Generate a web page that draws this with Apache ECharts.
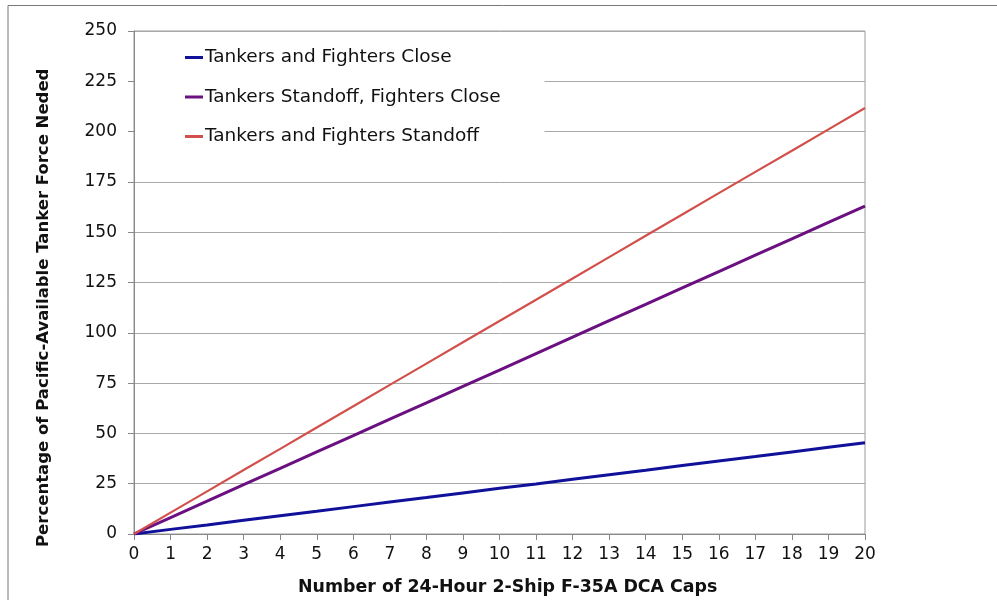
<!DOCTYPE html>
<html><head><meta charset="utf-8">
<script src="https://cdn.jsdelivr.net/npm/echarts@6/dist/echarts.min.js"></script>
<style>html,body{margin:0;padding:0;background:#fff}#c{width:997px;height:600px}</style>
</head><body><div id="c"></div>
<script>
var caps = [0,1,2,3,4,5,6,7,8,9,10,11,12,13,14,15,16,17,18,19,20];
var closeVals = [0,2.3,4.5,6.8,9.1,11.3,13.6,15.9,18.1,20.4,22.7,24.9,27.2,29.5,31.7,34.0,36.3,38.5,40.8,43.1,45.3];
var standoffCloseVals = [0,8.15,16.3,24.5,32.6,40.8,48.9,57.1,65.2,73.4,81.5,89.7,97.8,106.0,114.1,122.3,130.4,138.6,146.7,154.9,163.0];
var standoffVals = [0,10.6,21.2,31.8,42.3,52.9,63.5,74.1,84.7,95.3,105.9,116.4,127.0,137.6,148.2,158.8,169.4,180.0,190.5,201.1,211.7];
var seriesNames = ['Tankers and Fighters Close','Tankers Standoff, Fighters Close','Tankers and Fighters Standoff'];
var xTitle = 'Number of 24-Hour 2-Ship F-35A DCA Caps';
var yTitle = 'Percentage of Pacific-Available Tanker Force Neded';

function pairs(v){ return caps.map(function(x,i){return [x,v[i]];}); }
var FONT = 'DejaVu Sans';
var chart = echarts.init(document.getElementById('c'), null, {renderer:'canvas'});
chart.setOption({
  animation:false,
  backgroundColor:'#fff',
  textStyle:{fontFamily:FONT},
  grid:{left:134,right:132,top:31,bottom:66,show:true,borderColor:'#9a9a9a',borderWidth:1,backgroundColor:'transparent'},
  legend:{
    orient:'vertical', left:135, top:32,
    padding:[16,44,8,50], itemGap:20.5,
    backgroundColor:'#fff',
    icon:'rect', itemWidth:18, itemHeight:3,
    textStyle:{fontFamily:FONT,fontSize:18.5,color:'#111',padding:[0,0,0,-3]},
    data:seriesNames
  },
  xAxis:{
    type:'value', min:0, max:20, interval:1,
    axisLine:{lineStyle:{color:'#888',width:1}},
    axisTick:{show:true,length:6,lineStyle:{color:'#888'}},
    axisLabel:{fontFamily:FONT,fontSize:17,color:'#111',margin:12},
    splitLine:{show:false}
  },
  yAxis:{
    type:'value', min:0, max:250, interval:25,
    axisLine:{show:true,lineStyle:{color:'#888',width:1}},
    axisTick:{show:true,length:6,lineStyle:{color:'#888'}},
    axisLabel:{fontFamily:FONT,fontSize:17,color:'#111',margin:17},
    splitLine:{show:true,lineStyle:{color:'#a8a8a8',width:1}}
  },
  graphic:[
    {type:'polyline',shape:{points:[[8,600],[8,5.5],[997,5.5]]},style:{stroke:'#777',lineWidth:1,fill:null},silent:true},
    {type:'text',left:298,top:579,style:{text:xTitle,font:'bold 17.4px "DejaVu Sans"',fill:'#111'}},
    {type:'text',rotation:Math.PI/2,x:35,y:547,style:{text:yTitle,font:'bold 16.5px "DejaVu Sans"',fill:'#111',textAlign:'left',textVerticalAlign:'top'}}
  ],
  series:[
    {name:seriesNames[0],type:'line',data:pairs(closeVals),showSymbol:false,symbol:'none',lineStyle:{color:'#10109a',width:3},itemStyle:{color:'#10109a'}},
    {name:seriesNames[1],type:'line',data:pairs(standoffCloseVals),showSymbol:false,symbol:'none',lineStyle:{color:'#6a1080',width:3},itemStyle:{color:'#6a1080'}},
    {name:seriesNames[2],type:'line',data:pairs(standoffVals),showSymbol:false,symbol:'none',lineStyle:{color:'#d2504b',width:2.2},itemStyle:{color:'#d2504b'}}
  ]
});
</script></body></html>
